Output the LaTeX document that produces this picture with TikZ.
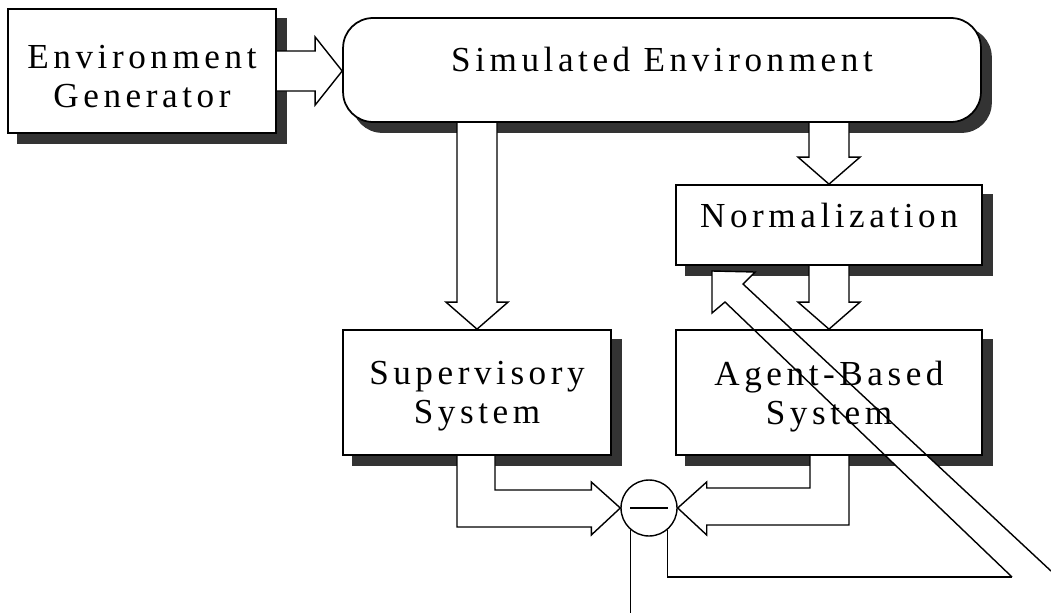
\documentclass[tikz,border=0pt]{standalone}
\usepackage{fontspec}
\setmainfont{Liberation Serif}[LetterSpace=13]
\usetikzlibrary{calc,backgrounds}

\begin{document}
\begin{tikzpicture}[x=0.02cm,y=-0.02cm,
  box/.style={draw,line width=1pt,fill=white,inner sep=0pt,align=center,font=\fontsize{20}{22}\selectfont},
  blk/.style={draw,line width=0.8pt,fill=white},
  shade/.style={fill=black!80}]
\useasboundingbox (0,0) rectangle (1051,612);

\node[box,minimum width=5.36cm,minimum height=2.48cm,text height=1.45cm] (gen) at (142,71) {Environment\\Generator};
\node[box,rounded corners=0.6cm,minimum width=12.76cm,minimum height=2.08cm,text depth=0.44cm] (sim) at (662,70) {Simulated Environment};
\node[box,minimum width=6.12cm,minimum height=1.6cm,text depth=0.4cm] (norm) at (829,225) {Normalization};
\node[box,minimum width=5.36cm,minimum height=2.5cm,text depth=0pt] (sup) at (477,392.5) {Supervisory\\System};
\node[box,fill=none,minimum width=6.12cm,minimum height=2.5cm,text depth=0pt] (agent) at (829,392.5) {Agent-Based\\System};
\node[draw,circle,line width=0.8pt,fill=white,minimum size=1.12cm] (cmp) at (649,508) {};
\draw[line width=0.8pt] ($(cmp.center)+(-19,0)$) -- ($(cmp.center)+(19,0)$);

\coordinate (fb) at (1012,577);
\draw[line width=0.8pt] (cmp.310) |- (fb);
\draw[line width=0.8pt] (cmp.230) -- ++(0,90);

\begin{pgfonlayer}{background}
% shadows
\fill[shade,rounded corners=0.6cm] ($(sim.south west)+(10,10)$) rectangle ($(sim.north east)+(10,10)$);
\foreach \n in {gen,norm,sup,agent}
  \fill[shade] ($(\n.south west)+(10,10)$) rectangle ($(\n.north east)+(10,10)$);
\fill[white] (agent.south west) rectangle (agent.north east);

% block arrows
\draw[blk] ($(gen.east)+(0,-20)$) -- ($(sim.west |- gen.east)+(-27,-20)$) -- ++(0,-14)
  -- (sim.west |- gen.east) -- ++(-27,34) -- ++(0,-14) -- ($(gen.east)+(0,20)$);
\draw[blk] ($(sim.south -| sup.north)+(-20,0)$) -- ($(sup.north)+(-20,-27)$) -- ++(-11,0)
  -- (sup.north) -- ++(31,-27) -- ++(-11,0) -- ($(sim.south -| sup.north)+(20,0)$);
\draw[blk] ($(sim.south -| norm.north)+(-20,0)$) -- ($(norm.north)+(-20,-27)$) -- ++(-11,0)
  -- (norm.north) -- ++(31,-27) -- ++(-11,0) -- ($(sim.south -| norm.north)+(20,0)$);
\draw[blk] ($(norm.south)+(-20,0)$) -- ($(agent.north)+(-20,-27)$) -- ++(-11,0)
  -- (agent.north) -- ++(31,-27) -- ++(-11,0) -- ($(norm.south)+(20,0)$);
\draw[blk] ($(sup.south)+(-20,0)$) |- ($(cmp.west)+(-29,19)$) -- ++(0,8)
  -- (cmp.west) -- ++(-29,-26) -- ++(0,8) -| ($(sup.south)+(18,0)$);
\draw[blk] ($(agent.south)+(20,0)$) |- ($(cmp.east)+(29,17)$) -- ++(0,10)
  -- (cmp.east) -- ++(29,-26) -- ++(0,6) -| ($(agent.south)+(-19,0)$);
\draw[blk] (1051,571) -- (743,284) -- (755,272) -- (712,271) -- (712,313) -- (725,302) -- (fb);
\end{pgfonlayer}
\end{tikzpicture}
\end{document}
